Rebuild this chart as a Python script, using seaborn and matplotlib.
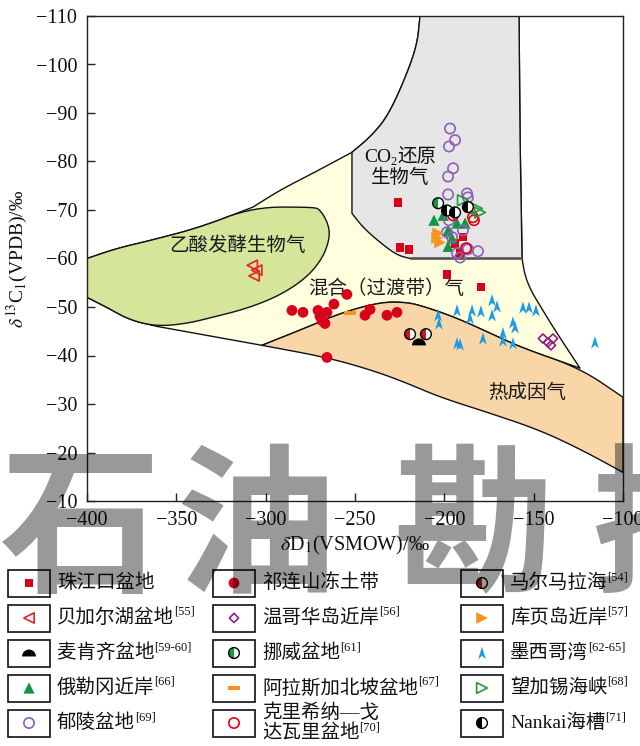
import numpy as np
import matplotlib
matplotlib.use("Agg")
import matplotlib.pyplot as plt
import seaborn as sns
from matplotlib.patches import Polygon, Rectangle
from matplotlib.path import Path

sns.set_theme(style="white")
plt.rcParams["font.family"] = ["Liberation Serif", "Noto Sans CJK SC", "DejaVu Sans"]
plt.rcParams["mathtext.fontset"] = "stix"
plt.rcParams["axes.unicode_minus"] = True

W, H = 640, 746

# ---------------- genetic-type field boundaries (δD, δ13C) ----------------
green_x = [-400.0, -383.2, -364.7, -336.8, -307.1, -273.5, -269.6, -265.1, -264.0, -267.9,
           -276.9, -292.0, -310.4, -329.5, -344.0, -360.8, -375.9, -388.8, -400.0]
green_y = [-60.0, -62.1, -63.7, -66.4, -70.6, -70.6, -70.1, -67.3, -64.4, -60.2,
           -56.1, -52.4, -49.7, -47.9, -46.6, -46.0, -47.3, -49.9, -52.0]

upper_x = [-307.1, -292.0, -273.5, -251.7]
upper_y = [-70.6, -74.1, -77.6, -81.9]

gray_top_x = [-251.7, -241.6, -232.1, -223.1, -215.3, -213.6]
gray_top_y = [-81.9, -85.0, -89.1, -96.1, -103.8, -110.0]
gray_low_x = [-251.7, -245.5, -236.0, -226.5, -219.2]
gray_low_y = [-69.3, -66.4, -63.3, -60.7, -60.0]
gray_right_x = [-156.5, -157.6, -158.2]
gray_right_y = [-60.0, -84.4, -110.0]

mixed_right_x = [-156.5, -154.9, -151.5, -146.5, -139.7, -132.5, -124.1]
mixed_right_y = [-60.0, -56.5, -53.4, -50.3, -46.2, -42.1, -37.4]

thermo_top_x = [-302.1, -276.9, -258.4, -236.0, -220.9, -209.7, -192.9, -174.4, -156.0, -124.1, -100.0]
thermo_top_y = [-42.1, -45.8, -48.7, -51.0, -51.0, -49.9, -47.7, -44.6, -41.5, -37.4, -31.4]
thermo_low_x = [-360.8, -302.1, -265.7, -239.9, -220.9, -202.4, -174.4, -146.5, -122.4, -100.0]
thermo_low_y = [-46.0, -42.1, -39.6, -36.9, -34.3, -31.4, -28.1, -24.6, -20.4, -15.9]

# ---------------- methane samples: δD (x) and δ13C (y) ----------------
zhujiang_x = [-225.9, -224.8, -219.8, -198.5, -179.5, -189.6, -191.2, -194.0]
zhujiang_y = [-71.6, -62.3, -61.9, -56.7, -54.1, -64.4, -61.1, -63.1]
beijiaer_x = [-307.5, -305.0, -306.5]
beijiaer_y = [-58.6, -57.6, -56.4]
maikenqi_x = [-214.2]
maikenqi_y = [-42.8]
eleigang_x = [-205.8, -200.7, -192.9, -188.4, -197.9, -195.7, -197.9]
eleigang_y = [-67.9, -68.9, -67.3, -67.3, -65.8, -64.2, -62.5]
yuling_x = [-196.8, -194.0, -197.4, -195.1, -197.9, -197.9, -187.3, -186.8, -197.4,
            -198.5, -195.7, -189.6, -187.3, -181.2, -192.9, -191.2, -186.8]
yuling_y = [-86.8, -84.4, -83.1, -78.6, -76.9, -73.2, -73.4, -72.6, -67.9,
            -65.4, -64.4, -65.8, -62.1, -61.5, -61.1, -60.2, -61.9]
qilian_x = [-285.3, -279.1, -270.7, -269.6, -265.7, -266.8, -268.5, -261.8, -254.5,
            -265.7, -244.4, -241.6, -232.1, -226.5]
qilian_y = [-49.3, -48.9, -49.3, -48.1, -48.9, -46.6, -47.2, -50.6, -52.6,
            -39.6, -48.3, -49.5, -48.3, -48.9]
wengehua_x = [-144.8, -142.0, -139.2, -140.3]
wengehua_y = [-43.5, -42.7, -43.5, -42.1]
nuowei_x = [-203.5]
nuowei_y = [-71.4]
alaska_x = [-252.8]
alaska_y = [-48.7]
kelixi_x = [-195.1, -184.0, -183.4, -187.9]
kelixi_y = [-68.9, -68.5, -67.9, -62.1]
marmara_x = [-219.2, -210.3]
marmara_y = [-44.4, -44.4]
kuye_x = [-204.1, -203.5, -202.4]
kuye_y = [-64.2, -65.2, -63.3]
mexico_x = [-203.5, -203.0, -192.9, -192.9, -191.2, -184.5, -185.6, -179.5, -178.4, -173.3,
            -170.5, -173.3, -167.2, -167.2, -161.6, -160.4, -161.6, -156.0, -152.6, -148.7, -115.7]
mexico_y = [-48.3, -46.6, -49.3, -42.5, -42.3, -49.3, -47.7, -49.1, -43.5, -51.4,
            -50.1, -48.3, -44.6, -43.1, -46.8, -45.8, -42.5, -49.9, -49.9, -49.3, -42.7]
makassar_x = [-189.6, -181.7, -180.0]
makassar_y = [-72.0, -70.3, -69.5]
nankai_x = [-198.5, -194.0, -186.8]
nankai_y = [-69.9, -69.5, -70.6]

# ---------------- marker shapes ----------------
def closed_path(verts):
    codes = [Path.MOVETO] + [Path.LINETO] * (len(verts) - 2) + [Path.CLOSEPOLY]
    return Path(verts, codes)

arrow_mk = closed_path([(0, 1), (0.62, -1), (0, -0.45), (-0.62, -1), (0, 1)])
bar_mk = closed_path([(-1, -0.35), (1, -0.35), (1, 0.35), (-1, 0.35), (-1, -0.35)])
_w = Path.wedge(0, 180)
dome_mk = Path(_w.vertices - np.array([0, 0.5]), _w.codes)
left_half = Path.wedge(90, 270)

RED = "#D9001B"


def scatter(ax, xs, ys, marker, s, face, edge="none", lw=0.0, z=5):
    sns.scatterplot(x=list(xs), y=list(ys), ax=ax, marker=marker, s=s,
                    color=face if face != "none" else edge,
                    facecolor=face, edgecolor=edge, linewidth=lw, zorder=z)


def half_circle(ax, xs, ys, color, s=60, z=6):
    scatter(ax, xs, ys, "o", s, "white", z=z)
    scatter(ax, xs, ys, left_half, s, color, z=z)
    scatter(ax, xs, ys, "o", s, "none", edge="black", lw=1.0, z=z)


series = [
    ("珠江口盆地", "", lambda a, x, y: scatter(a, x, y, "s", 38, RED), zhujiang_x, zhujiang_y),
    ("贝加尔湖盆地", "[55]", lambda a, x, y: scatter(a, x, y, "<", 55, "none", "#E8202A", 1.2), beijiaer_x, beijiaer_y),
    ("麦肯齐盆地", "[59-60]", lambda a, x, y: scatter(a, x, y, dome_mk, 100, "black"), maikenqi_x, maikenqi_y),
    ("俄勒冈近岸", "[66]", lambda a, x, y: scatter(a, x, y, "^", 65, "#0E9640"), eleigang_x, eleigang_y),
    ("郁陵盆地", "[69]", lambda a, x, y: scatter(a, x, y, "o", 55, "none", "#8F5FB5", 1.2), yuling_x, yuling_y),
    ("祁连山冻土带", "", lambda a, x, y: scatter(a, x, y, "o", 60, RED), qilian_x, qilian_y),
    ("温哥华岛近岸", "[56]", lambda a, x, y: scatter(a, x, y, "D", 22, "none", "#931C8C", 1.2), wengehua_x, wengehua_y),
    ("挪威盆地", "[61]", lambda a, x, y: half_circle(a, x, y, "#119B3A"), nuowei_x, nuowei_y),
    ("阿拉斯加北坡盆地", "[67]", lambda a, x, y: scatter(a, x, y, bar_mk, 70, "#F7941D"), alaska_x, alaska_y),
    ("克里希纳—戈\n达瓦里盆地", "[70]", lambda a, x, y: scatter(a, x, y, "o", 55, "none", "#E60012", 1.2), kelixi_x, kelixi_y),
    ("马尔马拉海", "[54]", lambda a, x, y: half_circle(a, x, y, "#C8161D"), marmara_x, marmara_y),
    ("库页岛近岸", "[57]", lambda a, x, y: scatter(a, x, y, ">", 70, "#F7941D"), kuye_x, kuye_y),
    ("墨西哥湾", "[62-65]", lambda a, x, y: scatter(a, x, y, arrow_mk, 80, "#1E9BE8"), mexico_x, mexico_y),
    ("望加锡海峡", "[68]", lambda a, x, y: scatter(a, x, y, ">", 60, "none", "#1E9B3C", 1.2), makassar_x, makassar_y),
    ("Nankai海槽", "[71]", lambda a, x, y: half_circle(a, x, y, "black"), nankai_x, nankai_y),
]


def chaikin(xs, ys, n=3):
    pts = np.column_stack([xs, ys]).astype(float)
    for _ in range(n):
        q = 0.75 * pts[:-1] + 0.25 * pts[1:]
        r = 0.25 * pts[:-1] + 0.75 * pts[1:]
        mid = np.empty((2 * len(q), 2))
        mid[0::2], mid[1::2] = q, r
        pts = np.vstack([pts[0], mid, pts[-1]])
    return pts


# ---------------- figure ----------------
fig = plt.figure(figsize=(W / 100, H / 100), dpi=100)
ax = fig.add_axes([87 / W, 1 - 501 / H, (623 - 87) / W, (501 - 16) / H])
ax.set_facecolor("white")

green = chaikin(green_x[:-1], green_y[:-1])
green = np.vstack([green, [green_x[-1], green_y[-1]]])
gray = np.vstack([chaikin(gray_low_x, gray_low_y),
                  np.column_stack([gray_right_x, gray_right_y]),
                  chaikin(gray_top_x[::-1], gray_top_y[::-1])])
mixed = np.vstack([
    chaikin(green_x[:5], green_y[:5]),
    chaikin(upper_x, upper_y),
    chaikin(gray_top_x, gray_top_y),
    np.column_stack([gray_right_x[::-1], gray_right_y[::-1]]),
    chaikin(mixed_right_x, mixed_right_y),
    chaikin(thermo_top_x[:-1], thermo_top_y[:-1])[::-1],
    chaikin(thermo_low_x[:2], thermo_low_y[:2])[::-1],
    chaikin(green_x[15:], green_y[15:]),
])
thermo = np.vstack([
    chaikin(thermo_top_x, thermo_top_y),
    chaikin(thermo_low_x[1:], thermo_low_y[1:])[::-1],
])

edge_kw = dict(edgecolor="#111111", linewidth=1.0, joinstyle="round")
ax.add_patch(Polygon(mixed, closed=True, facecolor="#FFFEDE", zorder=1, **edge_kw))
ax.add_patch(Polygon(thermo, closed=True, facecolor="#F8D6A8", zorder=2, **edge_kw))
ax.add_patch(Polygon(green, closed=True, facecolor="#D5E59A", zorder=2, **edge_kw))
ax.add_patch(Polygon(gray, closed=True, facecolor="#E6E6E6", zorder=2, **edge_kw))
ax.plot([gray_low_x[-1], gray_right_x[0]], [gray_low_y[-1], gray_right_y[0]],
        color="#555555", lw=1.8, zorder=3, solid_capstyle="butt")

for name, ref, draw, xs, ys in series:
    draw(ax, xs, ys)

ax.text(-315.6, -62.6, "乙酸发酵生物气", ha="center", va="center", fontsize=14, zorder=4, color="#1a1a1a")
ax.text(-232.7, -53.8, "混合（过渡带）气", ha="center", va="center", fontsize=14, zorder=4, color="#1a1a1a")
ax.text(-153.8, -32.2, "热成因气", ha="center", va="center", fontsize=14, zorder=4, color="#1a1a1a")

ax.set_xlim(-400, -100)
ax.set_ylim(-10, -110)
ax.set_xticks(np.arange(-400, -99, 50))
ax.set_yticks(np.arange(-110, -9, 10))
for sp in ax.spines.values():
    sp.set_color("#222222")
    sp.set_linewidth(1.0)
ax.tick_params(direction="in", length=6, width=1.0, color="#222222", labelsize=14.5,
               pad=7, labelcolor="#111111", bottom=True, left=True, top=False, right=False)
ax.set_xlabel(r"$\delta$D$_1$(VSMOW)/‰", fontsize=14.5, labelpad=3, color="#111111")
ax.set_ylabel(r"$\delta^{13}$C$_1$(VPDB)/‰", fontsize=14, labelpad=4, color="#111111")

# ---------------- overlay in pixel space: labels and legend ----------------
lax = fig.add_axes([0, 0, 1, 1], zorder=10)
lax.set_xlim(0, W)
lax.set_ylim(H, 0)
lax.axis("off")
renderer = fig.canvas.get_renderer()


def runs_text(x, y, runs, ha="left"):
    objs, total = [], 0.0
    for s, fs, dy in runs:
        t = lax.text(0, 0, s, fontsize=fs, va="center", ha="left", color="#111111")
        w = t.get_window_extent(renderer).width
        objs.append((t, dy, w))
        total += w
    x0 = x - total / 2 if ha == "center" else x
    for t, dy, w in objs:
        t.set_position((x0, y + dy))
        x0 += w


runs_text(400, 157, [("CO", 14, 0), ("2", 9, 5), ("还原", 14, 0)], ha="center")
runs_text(400, 178, [("生物气", 14, 0)], ha="center")

box_left = [8, 213, 461]
row_y = [583, 618, 653, 688, 723]
BW, BH = 42, 27
for i, (name, ref, draw, xs, ys) in enumerate(series):
    col, row = divmod(i, 5)
    cx, cy = box_left[col] + BW / 2, row_y[row]
    lax.add_patch(Rectangle((box_left[col], cy - BH / 2), BW, BH, facecolor="white",
                            edgecolor="#111111", linewidth=1.2, zorder=1))
    draw(lax, [cx], [cy])
    tx = box_left[col] + BW + 7
    lines = name.split("\n")
    if len(lines) == 1:
        runs_text(tx, cy, [(lines[0], 14, 0)] + ([(ref, 9, -6)] if ref else []))
    else:
        runs_text(tx, cy - 10, [(lines[0], 14, 0)])
        runs_text(tx, cy + 10, [(lines[1], 14, 0)] + ([(ref, 9, -6)] if ref else []))

lax.set_xlim(0, W)
lax.set_ylim(H, 0)

# journal watermark across the lower part of the page
for ch, xc in zip("石油勘探", [80, 256, 474, 672]):
    fig.text(xc / W, 1 - 580 / H, ch, fontsize=116, fontweight="bold", color="black",
             alpha=0.4, ha="center", va="baseline", zorder=100,
             family=["Noto Sans CJK SC"])

fig.savefig("out.png", dpi=100)
